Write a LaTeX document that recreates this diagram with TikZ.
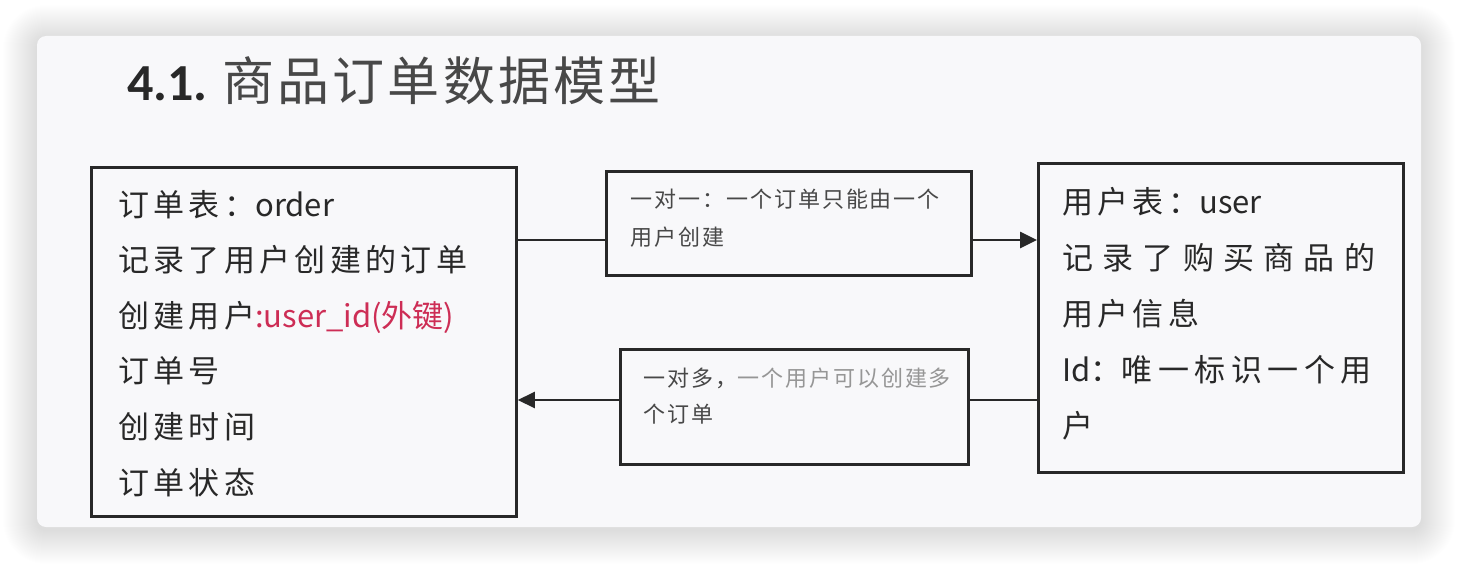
\documentclass[tikz,border=0pt]{standalone}
\usepackage{fontspec}
\newfontfamily\cjk[LetterSpace=14]{Noto Sans CJK SC}
\newfontfamily\cjkn{Noto Sans CJK SC}
\newfontfamily\cjkw[LetterSpace=30]{Noto Sans CJK SC}
\newfontfamily\cjkm[LetterSpace=18]{Noto Sans CJK SC}
\newfontfamily\cjks[LetterSpace=9]{Noto Sans CJK SC}
\newfontfamily\cjkt[LetterSpace=6]{Noto Sans CJK SC}
\newfontfamily\lat{Carlito}
\usetikzlibrary{arrows.meta}
\definecolor{cardcol}{RGB}{248,248,250}
\definecolor{ink}{RGB}{40,40,40}
\definecolor{fk}{RGB}{205,45,85}
\definecolor{blurtxt}{RGB}{150,150,150}
\tikzset{
  box/.style={draw=ink, line width=2.8pt, inner sep=0pt, anchor=north west},
  txt/.style={anchor=base west, align=left, inner sep=0pt, text=ink},
  link/.style={draw=ink, line width=2.6pt},
  tip/.style={-{Triangle[length=17pt,width=16pt]}}
}
\begin{document}
\begin{tikzpicture}[x=1pt,y=-1pt]
\useasboundingbox (0,0) rectangle (1458,564);
\fill[white] (0,0) rectangle (1458,564);
% soft drop shadow
\foreach \i in {1,...,34}{
  \fill[black, opacity=0.0048, rounded corners=9pt+\i pt]
    (37-\i,36-\i+3) rectangle (1421+\i,527+\i+3);
}
\fill[cardcol, rounded corners=9pt] (37,36) rectangle (1421,527);

% title
\node[anchor=base west, inner sep=0pt, text=ink] (title) at (127,101)
  {\fontsize{52}{52}\selectfont{\lat\bfseries 4.1.}\hspace{15pt}{\cjkt\color{ink!85}商品订单数据模型}};

% boxes
\node[box, minimum width=425pt, minimum height=349pt] (order) at (90,166) {};
\node[box, minimum width=365pt, minimum height=104pt] (lbl1) at (605,170) {};
\node[box, minimum width=348pt, minimum height=115pt] (lbl2) at (619,348) {};
\node[box, minimum width=365pt, minimum height=309pt] (user) at (1037,162) {};

% texts (anchored at the baseline of the last line)
\node[txt, font=\cjk\fontsize{31}{55.6}\selectfont] (ordertext) at (118,494)
  {订单表：{\cjkn order}\\记录了用户创建的订单\\创建用户\textcolor{fk}{\cjkn:user\_id(外键)}\\订单号\\创建时间\\订单状态};
\node[txt, font=\fontsize{31}{56}\selectfont] (usertext) at (1062,437)
  {{\cjk 用户表：}{\cjkn user}\\{\cjkw 记录了购买商品的}\\{\cjk 用户信息}\\{\cjkn Id：}{\cjkm 唯一标识一个用}\\{\cjk 户}};
\node[txt, font=\cjks\fontsize{22}{38}\selectfont, text=ink!85] (lbl1text) at (630,245)
  {一对一：一个订单只能由一个\\用户创建};
\node[txt, font=\cjks\fontsize{22}{36}\selectfont, text=ink!85] (lbl2text) at (643,422)
  {一对多，\textcolor{blurtxt}{一个用户可以创建多}\\个订单};

% connectors
\coordinate (y1) at (0,240);
\coordinate (y2) at (0,400);
\draw[link] (order.east |- y1) -- (lbl1.west |- y1);
\draw[link, tip] (lbl1.east |- y1) -- (user.west |- y1);
\draw[link] (user.west |- y2) -- (lbl2.east |- y2);
\draw[link, tip] (lbl2.west |- y2) -- (order.east |- y2);
\end{tikzpicture}
\end{document}
